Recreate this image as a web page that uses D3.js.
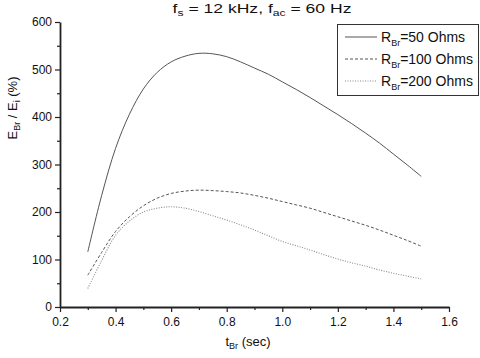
<!DOCTYPE html>
<html>
<head>
<meta charset="utf-8">
<script src="https://cdn.jsdelivr.net/npm/d3@7"></script>
<style>
  body { margin: 0; background: #fff; }
  text { font-family: "Liberation Sans", Arial, sans-serif; }
</style>
</head>
<body>
<div id="chart"></div>
<script>
var tValues = [0.30, 0.35, 0.40, 0.45, 0.50, 0.55, 0.60, 0.65, 0.70, 0.75, 0.80, 0.85, 0.90,
    0.95, 1.00, 1.05, 1.10, 1.15, 1.20, 1.25, 1.30, 1.35, 1.40, 1.45, 1.50];
var r50 = [116, 235, 334, 406, 459, 494, 516, 528, 534, 533, 527, 516, 503,
    490, 474, 458, 441, 423, 405, 386, 366, 345, 322, 299, 275];
var r100 = [67, 115, 159, 190, 213, 229, 239, 244, 246, 245, 243, 240, 235,
    229, 222, 215, 208, 199, 190, 181, 172, 162, 151, 140, 128];
var r200 = [39, 98, 151, 181, 200, 208, 211, 208, 201, 192, 183, 173, 162,
    150, 138, 129, 120, 110, 101, 93, 86, 78, 71, 65, 59];
var seriesNames = ["=50 Ohms", "=100 Ohms", "=200 Ohms"];
var dashes = [null, "3,2", "1,1.5"];
var xTicks = [0.2, 0.4, 0.6, 0.8, 1.0, 1.2, 1.4, 1.6];
var yTicks = [0, 100, 200, 300, 400, 500, 600];

var width = 480, height = 358;
var margin = {left: 60, right: 31, top: 22, bottom: 51};

var svg = d3.select("#chart").append("svg")
    .attr("width", width)
    .attr("height", height);

var x = d3.scaleLinear()
    .domain([0.2, 1.6])
    .range([margin.left, width - margin.right]);

var y = d3.scaleLinear()
    .domain([0, 600])
    .range([height - margin.bottom, margin.top]);

// minor ticks first
svg.append("g")
    .attr("transform", "translate(0," + (height - margin.bottom) + ")")
    .call(d3.axisBottom(x).tickValues(d3.range(0.3, 1.6, 0.2)).tickSize(3).tickFormat(""))
    .call(function (g) { g.select(".domain").remove(); })
    .selectAll("line").attr("stroke", "#222").attr("stroke-width", 1.2);

svg.append("g")
    .attr("transform", "translate(" + margin.left + ",0)")
    .call(d3.axisLeft(y).tickValues(d3.range(50, 600, 100)).tickSize(3).tickFormat(""))
    .call(function (g) { g.select(".domain").remove(); })
    .selectAll("line").attr("stroke", "#222").attr("stroke-width", 1.2);

var xAxis = svg.append("g")
    .attr("transform", "translate(0," + (height - margin.bottom) + ")")
    .call(d3.axisBottom(x).tickValues(xTicks).tickSize(5).tickSizeOuter(0).tickFormat(d3.format(".1f")));

var yAxis = svg.append("g")
    .attr("transform", "translate(" + margin.left + ",0)")
    .call(d3.axisLeft(y).tickValues(yTicks).tickSize(5).tickSizeOuter(0));

[xAxis, yAxis].forEach(function (g) {
    g.select(".domain").attr("stroke", "#222").attr("stroke-width", 1.8);
    g.selectAll("line").attr("stroke", "#222").attr("stroke-width", 1.2);
    g.selectAll("text").attr("font-size", "12px").attr("fill", "#111")
        .style("font-family", "'Liberation Sans', Arial, sans-serif");
});
xAxis.selectAll("text").attr("dy", "0.95em");

// curves
var line = d3.line()
    .curve(d3.curveCatmullRom)
    .x(function (d) { return x(d[0]); })
    .y(function (d) { return y(d[1]); });

[r50, r100, r200].forEach(function (vals, i) {
    svg.append("path")
        .datum(tValues.map(function (t, j) { return [t, vals[j]]; }))
        .attr("fill", "none")
        .attr("stroke", i == 2 ? "#888" : "#555")
        .attr("stroke-width", i == 2 ? 1.1 : 1)
        .attr("stroke-dasharray", dashes[i])
        .attr("d", line);
});

// title (horizontally stretched like the reference)
var title = svg.append("text")
    .attr("transform", "translate(262,13) scale(1.35,1)")
    .attr("text-anchor", "middle")
    .attr("font-size", "13px")
    .attr("fill", "#111");
title.append("tspan").text("f");
title.append("tspan").attr("dy", 3).attr("font-size", "9px").text("s");
title.append("tspan").attr("dy", -3).text(" = 12 kHz, f");
title.append("tspan").attr("dy", 3).attr("font-size", "9px").text("ac");
title.append("tspan").attr("dy", -3).text(" = 60 Hz");

// x label
var xl = svg.append("text")
    .attr("x", 248)
    .attr("y", 346)
    .attr("text-anchor", "middle")
    .attr("font-size", "13px")
    .attr("fill", "#111");
xl.append("tspan").text("t");
xl.append("tspan").attr("dy", 3).attr("font-size", "9px").text("Br");
xl.append("tspan").attr("dy", -3).text(" (sec)");

// y label
var yl = svg.append("text")
    .attr("transform", "translate(17,108) rotate(-90)")
    .attr("text-anchor", "middle")
    .attr("font-size", "13px")
    .attr("fill", "#111");
yl.append("tspan").text("E");
yl.append("tspan").attr("dy", 3).attr("font-size", "9px").text("Br");
yl.append("tspan").attr("dy", -3).text(" / E");
yl.append("tspan").attr("dy", 3).attr("font-size", "9px").text("i");
yl.append("tspan").attr("dy", -3).text(" (%)");

// legend
var legend = svg.append("g");
legend.append("rect")
    .attr("x", 337.5)
    .attr("y", 24.5)
    .attr("width", 141)
    .attr("height", 71)
    .attr("fill", "#fff")
    .attr("stroke", "#333")
    .attr("stroke-width", 1);

seriesNames.forEach(function (name, i) {
    var ly = 37 + i * 22;
    legend.append("line")
        .attr("x1", 345).attr("x2", 377)
        .attr("y1", ly).attr("y2", ly)
        .attr("stroke", i == 2 ? "#888" : "#555")
        .attr("stroke-width", 1)
        .attr("stroke-dasharray", dashes[i]);
    var t = legend.append("text")
        .attr("x", 381)
        .attr("y", ly + 5)
        .attr("font-size", "14px")
        .attr("fill", "#111");
    t.append("tspan").text("R");
    t.append("tspan").attr("dy", 4).attr("font-size", "9px").text("Br");
    t.append("tspan").attr("dy", -4).text(name);
});
</script>
</body>
</html>
